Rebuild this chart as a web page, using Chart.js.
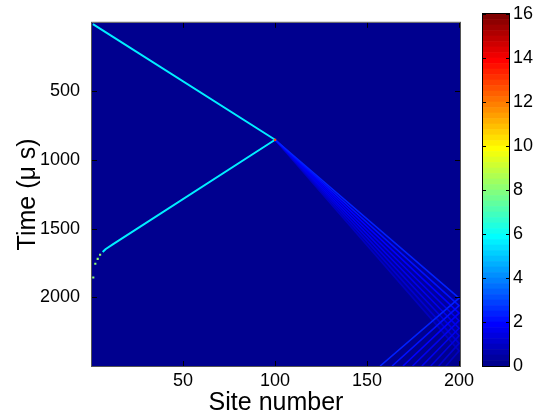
<!DOCTYPE html>
<html>
<head>
<meta charset="utf-8">
<script src="https://cdn.jsdelivr.net/npm/chart.js@4.4.1/dist/chart.umd.min.js"></script>
<style>
  html, body { margin: 0; padding: 0; background: #fff; }
  #wrap { position: relative; width: 537px; height: 418px; }
  #wrap canvas { position: absolute; top: 0; }
  #main { left: 0; }
  #cbar { left: 482px; }
</style>
</head>
<body>
<div id="wrap">
  <canvas id="main" width="537" height="418"></canvas>
  <canvas id="cbar" width="55" height="418"></canvas>
</div>
<script>
// axes
const siteRange = [0.5, 200.5];
const lastSite = 200;
const timeRange = [0, 2500];
const siteTicks = [50, 100, 150, 200];
const timeTicks = [500, 1000, 1500, 2000];
const colorTicks = [0, 2, 4, 6, 8, 10, 12, 14, 16];
const colorLimit = 16;

// main pulse ridge (site, time) and its level
const pulseSites = [1, 100, 12, 8, 6.3];
const pulseTimes = [10, 852, 1612, 1648, 1670];
const pulseLevel = 5.5;

// pulse breaking up near the left end
const tailSites = [4.9, 3.6, 2.3, 1.2];
const tailTimes = [1690, 1720, 1755, 1855];
const tailLevel = 8;

// hot spot at the turning point
const turnSite = 100;
const turnTime = 852;
const turnLevel = 12.5;

// transmitted fronts: arrival at the last site, site where the echo leaves, level
const frontArrival = [2005, 2060, 2115, 2170, 2225, 2280, 2335, 2390];
const frontExitSite = [157.1, 163.6, 169.5, 174.7, 179.8, 184.6, 188.9, 192.8];
const frontLevel = [2.4, 2.1, 1.9, 1.7, 1.5, 1.3, 1.1, 0.9];
// weak spread between the fronts
const wedgeLevel = 0.3;

const FONT = '"Liberation Sans", Arial, Helvetica, sans-serif';

// 64-step jet colormap
const jetTable = (() => {
    const m = 64, n = 16;
    const u = [];
    for (let i = 1; i <= n; i++) u.push(i / n);
    for (let i = 1; i < n; i++) u.push(1);
    for (let i = n; i >= 1; i--) u.push(i / n);
    const J = Array.from({ length: m }, () => [0, 0, 0]);
    u.forEach((val, k) => {
        const g = 9 + k, r = g + n, b = g - n;
        if (g <= m) J[g - 1][1] = val;
        if (r <= m) J[r - 1][0] = val;
        if (b >= 1) J[b - 1][2] = val;
    });
    return J.map(c => `rgb(${c.map(v => Math.round(v * 255)).join(',')})`);
})();

const jetColor = (v) => {
    const idx = Math.min(63, Math.max(0, Math.floor(v / colorLimit * 64)));
    return jetTable[idx];
};

const xy = (xs, ys) => xs.map((x, i) => ({ x, y: ys[i] }));

const fixedTicks = (list) => (scale) => { scale.ticks = list.map(v => ({ value: v })); };

const plotFrame = {
    id: 'plotFrame',
    beforeDatasetsDraw(chart) {
        const { ctx, chartArea: a } = chart;
        ctx.save();
        ctx.fillStyle = jetColor(0);
        ctx.fillRect(a.left, a.top, a.width, a.height);
        ctx.restore();
    },
    afterDatasetsDraw(chart) {
        const { ctx, chartArea: a, scales: { x, y } } = chart;
        ctx.save();
        ctx.strokeStyle = '#000';
        ctx.lineWidth = 1;
        ctx.beginPath();
        siteTicks.forEach(v => {
            const px = Math.round(x.getPixelForValue(v)) + 0.5;
            ctx.moveTo(px, a.bottom); ctx.lineTo(px, a.bottom - 5);
            ctx.moveTo(px, a.top); ctx.lineTo(px, a.top + 5);
        });
        timeTicks.forEach(v => {
            const py = Math.round(y.getPixelForValue(v)) + 0.5;
            ctx.moveTo(a.left, py); ctx.lineTo(a.left + 5, py);
            ctx.moveTo(a.right, py); ctx.lineTo(a.right - 5, py);
        });
        ctx.stroke();
        ctx.strokeStyle = '#555';
        ctx.strokeRect(a.left - 0.5, a.top - 0.5, a.width + 1, a.height + 1);
        ctx.restore();
    }
};

const dotSet = (points, level, radius) => ({
    data: points,
    showLine: false,
    pointStyle: 'rect',
    pointRadius: radius,
    pointBackgroundColor: jetColor(level),
    pointBorderWidth: 0
});

const lineSet = (points, level, width) => ({
    data: points,
    showLine: true,
    borderColor: jetColor(level),
    borderWidth: width,
    borderJoinStyle: 'round',
    pointRadius: 0,
    clip: 0
});

const turnPoint = { x: turnSite, y: turnTime };

const datasets = [
    dotSet([turnPoint], turnLevel, 1.6),
    dotSet(xy(tailSites, tailTimes), tailLevel, 1.5),
    lineSet(xy(pulseSites, pulseTimes), pulseLevel, 2),
    ...frontArrival.map((t, k) => lineSet([
        turnPoint,
        { x: lastSite, y: t },
        { x: frontExitSite[k], y: timeRange[1] }
    ], frontLevel[k], 1.6)),
    {
        data: [turnPoint, { x: lastSite, y: frontArrival[0] },
               { x: lastSite, y: frontArrival[frontArrival.length - 1] }, turnPoint],
        showLine: true,
        fill: 'shape',
        backgroundColor: jetColor(wedgeLevel),
        borderWidth: 0,
        pointRadius: 0,
        clip: 0
    }
];

new Chart(document.getElementById('main'), {
    type: 'scatter',
    data: { datasets },
    options: {
        responsive: false,
        animation: false,
        events: [],
        layout: { padding: { left: 0, top: 14, right: 77, bottom: 0 } },
        plugins: { legend: { display: false }, tooltip: { enabled: false } },
        scales: {
            x: {
                type: 'linear',
                min: siteRange[0], max: siteRange[1],
                afterBuildTicks: fixedTicks(siteTicks),
                afterFit: (s) => { s.height = 52; },
                grid: { display: false, drawTicks: false },
                border: { display: false },
                ticks: { color: '#000', padding: 4, callback: v => String(v), font: { family: FONT, size: 18 } },
                title: { display: true, text: 'Site number', color: '#000', padding: { top: 0, bottom: 0 }, font: { family: FONT, size: 25 } }
            },
            y: {
                type: 'linear',
                reverse: true,
                min: timeRange[0], max: timeRange[1],
                afterBuildTicks: fixedTicks(timeTicks),
                afterFit: (s) => { s.width = 92; },
                grid: { display: false, drawTicks: false },
                border: { display: false },
                ticks: { color: '#000', padding: 12, callback: v => String(v), font: { family: FONT, size: 18 } },
                title: { display: true, text: 'Time (μ s)', color: '#000', padding: { top: 13, bottom: 0 }, font: { family: FONT, size: 25 } }
            }
        }
    },
    plugins: [plotFrame]
});

// colour bar: 64 stacked slices
const barFrame = {
    id: 'barFrame',
    afterDatasetsDraw(chart) {
        const { ctx, chartArea: a, scales: { y } } = chart;
        ctx.save();
        ctx.strokeStyle = '#000';
        ctx.lineWidth = 1;
        ctx.beginPath();
        colorTicks.forEach(v => {
            const py = Math.round(y.getPixelForValue(v)) + 0.5;
            ctx.moveTo(a.left, py); ctx.lineTo(a.left + 4, py);
            ctx.moveTo(a.right, py); ctx.lineTo(a.right - 4, py);
        });
        ctx.stroke();
        ctx.strokeRect(a.left + 0.5, a.top - 0.5, a.width - 1, a.height + 1);
        ctx.restore();
    }
};

new Chart(document.getElementById('cbar'), {
    type: 'bar',
    data: {
        labels: [''],
        datasets: jetTable.map(c => ({
            data: [colorLimit / 64],
            backgroundColor: c,
            borderWidth: 0,
            barPercentage: 1,
            categoryPercentage: 1
        }))
    },
    options: {
        responsive: false,
        animation: false,
        events: [],
        layout: { padding: { left: 0, top: 14, right: 0, bottom: 52 } },
        plugins: { legend: { display: false }, tooltip: { enabled: false } },
        scales: {
            x: { stacked: true, display: false },
            y: {
                stacked: true,
                position: 'right',
                min: 0, max: colorLimit,
                afterBuildTicks: fixedTicks(colorTicks),
                afterFit: (s) => { s.width = 27; },
                grid: { display: false, drawTicks: false },
                border: { display: false },
                ticks: { color: '#000', padding: 3, font: { family: FONT, size: 18 } }
            }
        }
    },
    plugins: [barFrame]
});
</script>
</body>
</html>
